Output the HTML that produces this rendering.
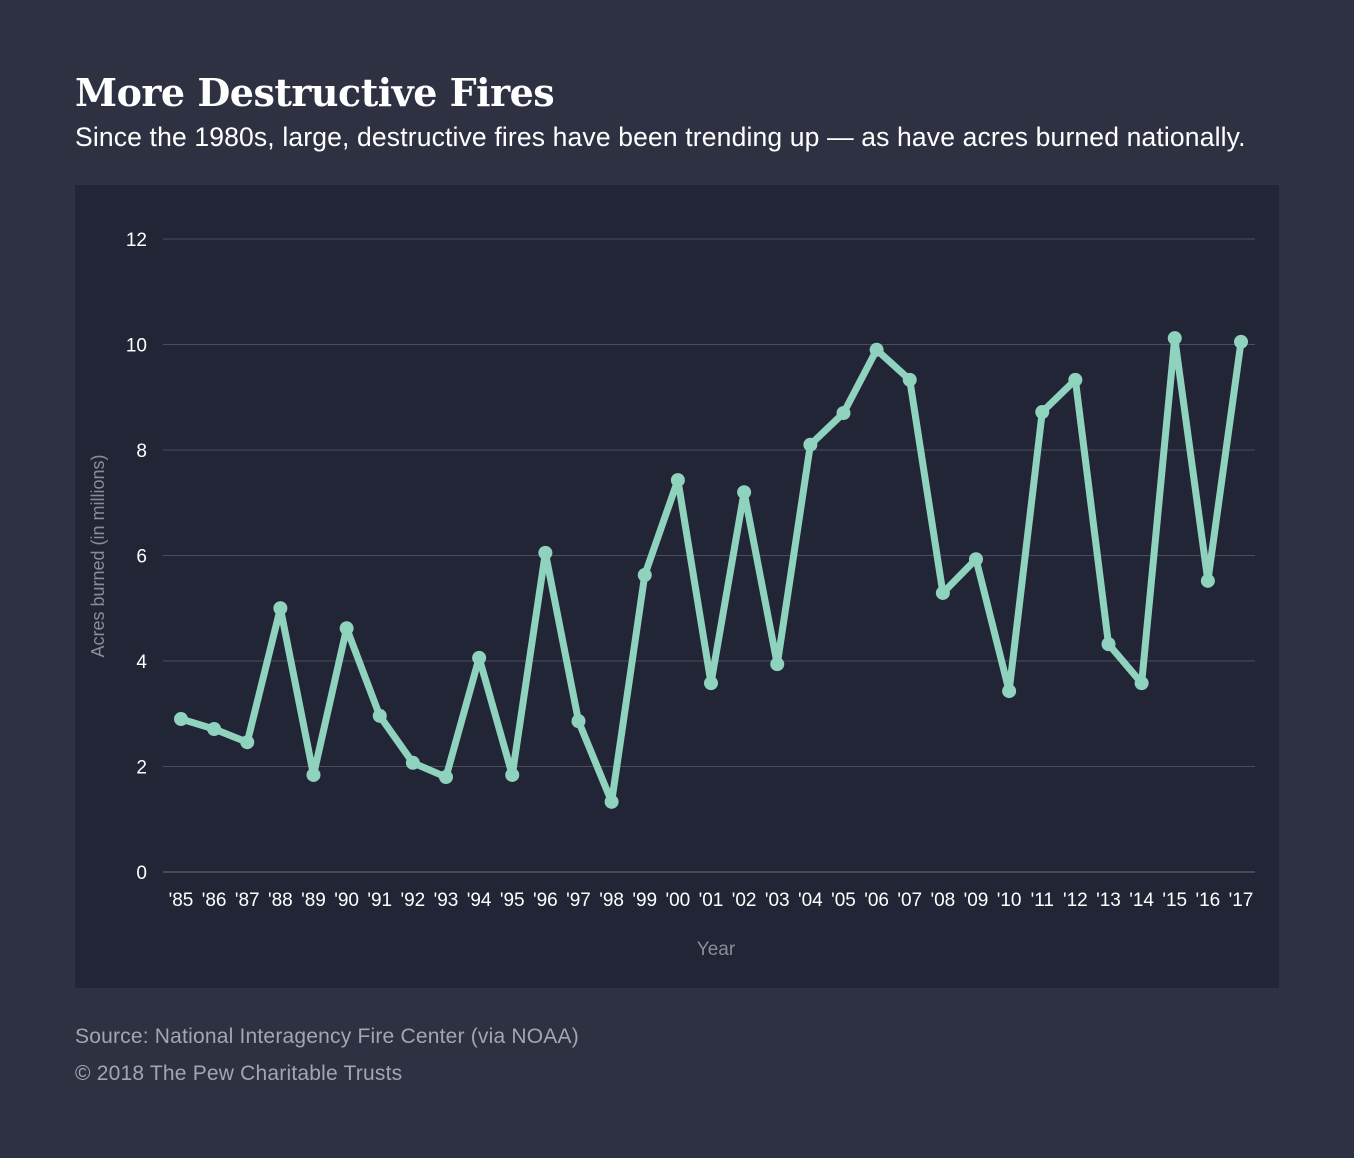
<!DOCTYPE html>
<html><head><meta charset="utf-8">
<style>
body{margin:0;width:1354px;height:1158px;background:#2e3142;font-family:"Liberation Sans",sans-serif;overflow:hidden;position:relative}
#title{position:absolute;left:75px;top:70px;font-family:"DejaVu Serif","Liberation Serif",serif;font-weight:bold;font-size:38px;color:#fff;margin:0;letter-spacing:-0.5px}
#sub{position:absolute;left:75px;top:122px;font-size:26.5px;color:#fff;margin:0;letter-spacing:0.15px}
#panel{position:absolute;left:75px;top:185px;width:1204px;height:803px;background:#222536}
.src{position:absolute;left:75px;font-size:21px;color:#a3a6b2;letter-spacing:0.2px}
</style></head><body>
<h1 id="title">More Destructive Fires</h1>
<p id="sub">Since the 1980s, large, destructive fires have been trending up — as have acres burned nationally.</p>
<div id="panel"></div>
<svg id="chart" width="1354" height="1158" style="position:absolute;left:0;top:0"></svg>
<div class="src" style="top:1025px">Source: National Interagency Fire Center (via NOAA)</div>
<div class="src" style="top:1062px">© 2018 The Pew Charitable Trusts</div>
<script>
const years=["'85","'86","'87","'88","'89","'90","'91","'92","'93","'94","'95","'96","'97","'98","'99","'00","'01","'02","'03","'04","'05","'06","'07","'08","'09","'10","'11","'12","'13","'14","'15","'16","'17"];
const acres=[2.90,2.71,2.46,5.00,1.84,4.62,2.96,2.07,1.80,4.06,1.84,6.05,2.86,1.33,5.63,7.43,3.58,7.20,3.94,8.10,8.70,9.90,9.33,5.29,5.93,3.43,8.72,9.33,4.32,3.58,10.12,5.52,10.05];
const yTicks=[0,2,4,6,8,10,12];
const NS="http://www.w3.org/2000/svg";
const svg=document.getElementById('chart');
const x=i=>181+i*(1241-181)/(years.length-1);
const y=v=>872-v*(872-239)/12;
function mk(t,a){const e=document.createElementNS(NS,t);for(const k in a)e.setAttribute(k,a[k]);svg.appendChild(e);return e;}
yTicks.forEach(v=>{
  const l=mk('line',{x1:163,x2:1255,y1:y(v),y2:y(v),stroke:v===0?'#6a6d7a':'#4a4d5c','stroke-width':1});
  
  
  const t=mk('text',{x:147,y:y(v)+7,'text-anchor':'end',fill:'#fff','font-size':19,'font-family':'Liberation Sans, sans-serif'});
  t.textContent=v;
  
  
});
years.forEach((yr,i)=>{
  const t=mk('text',{x:x(i),y:906,'text-anchor':'middle',fill:'#fff','font-size':19,'font-family':'Liberation Sans, sans-serif'});
  t.textContent=yr;
  
  
});
const yt=mk('text',{x:716,y:955,'text-anchor':'middle',fill:'#8a8d99','font-size':19,'font-family':'Liberation Sans, sans-serif'});
yt.textContent='Year';


const at=mk('text',{x:104,y:556,'text-anchor':'middle',fill:'#8a8d99','font-size':18,'font-family':'Liberation Sans, sans-serif',transform:'rotate(-90 104 556)'});
at.textContent='Acres burned (in millions)';


const path=mk('polyline',{points:acres.map((v,i)=>x(i)+','+y(v)).join(' '),fill:'none',stroke:'#8fd3bf','stroke-width':7,'stroke-linejoin':'round'});


acres.forEach((v,i)=>{
  const c=mk('circle',{cx:x(i),cy:y(v),r:7,fill:'#8fd3bf'});
  
  
});
</script>
</body></html>
